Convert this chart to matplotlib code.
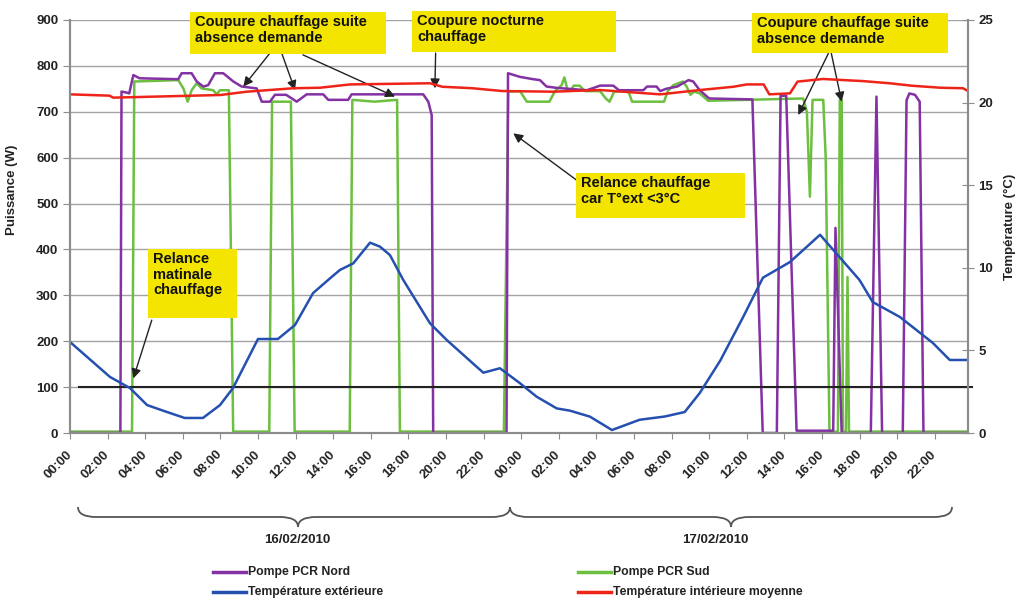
import numpy as np
import matplotlib.pyplot as plt
from matplotlib.lines import Line2D
from matplotlib.path import Path
from matplotlib.patches import PathPatch, Rectangle

plt.rcParams['font.family'] = ['Liberation Sans', 'DejaVu Sans']
plt.rcParams['font.weight'] = 'bold'
plt.rcParams['axes.labelweight'] = 'bold'

# ---- données (temps en heures depuis le 16/02 00:00) ----
t_nord = [0, 2.68, 2.74, 3.0, 3.15, 3.37, 3.7, 5.76, 5.94, 6.47, 6.74, 7.09, 7.35, 7.71,
          8.15, 8.69, 9.13, 9.93, 10.2, 10.64, 10.9, 11.5, 12.06, 12.59, 13.47, 13.74,
          14.8, 14.98, 18.79, 19.06, 19.24, 19.32, 23.22, 23.3, 23.94, 24.64, 25.0,
          25.35, 25.9, 27.5, 28.2, 28.9, 29.2, 30.5, 30.7, 31.2, 31.4, 31.7, 32.3, 32.9,
          33.15, 33.5, 34.0, 36.3, 36.85, 37.6, 37.8, 38.1, 38.65, 40.6, 40.72, 41.05,
          42.6, 42.9, 43.2, 44.3, 44.5, 44.65, 44.95, 45.2, 45.4, 47.77]
p_nord = [0, 0, 744, 742, 740, 780, 773, 771, 784, 784, 766, 755, 758, 784,
          784, 766, 755, 751, 722, 722, 737, 737, 722, 738, 738, 726,
          726, 738, 738, 722, 693, 0, 0, 784, 776, 771, 769,
          755, 752, 747, 757, 757, 747, 747, 755, 755, 745, 750, 755, 769,
          766, 747, 729, 727, 0, 0, 735, 735, 5, 5, 447, 0,
          0, 733, 0, 0, 725, 740, 737, 722, 0, 0]

t_sud = [0, 3.3, 3.42, 5.76, 6.03, 6.26, 6.47, 6.74, 7.0, 7.62, 7.8, 7.98, 8.45, 8.68,
         10.6, 10.75, 11.75, 11.95, 14.88, 15.02, 16.2, 17.4, 17.55, 23.08, 23.32,
         23.94, 24.3, 25.5, 25.8, 26.15, 26.3, 26.45, 26.6, 26.8, 27.1, 27.4, 28.2,
         28.5, 28.7, 28.95, 29.7, 29.9, 31.6, 31.8, 32.1, 32.6, 32.8, 33.0, 33.2, 33.5,
         33.95, 39.0, 39.2, 39.36, 39.5, 40.07, 40.2, 40.4, 40.85, 40.95, 41.05, 41.12,
         41.28, 41.36, 41.44, 47.77]
p_sud = [3, 3, 766, 769, 751, 722, 747, 762, 751, 747, 738, 747, 747, 3,
         3, 722, 722, 3, 3, 726, 722, 726, 3, 3, 744,
         745, 722, 722, 745, 758, 775, 750, 745, 757, 757, 745, 745,
         729, 722, 744, 745, 722, 722, 745, 758, 766, 755, 737, 744, 740,
         724, 729, 700, 515, 726, 726, 600, 3, 3, 726, 726, 3,
         3, 340, 3, 3]

t_ext = [0, 2.13, 3.19, 4.1, 5.16, 6.1, 7.07, 7.98, 8.67, 10.0, 11.06, 11.97, 12.93,
         13.83, 14.36, 15.07, 15.96, 16.49, 17.02, 17.73, 19.15, 20.04, 21.63, 21.99,
         22.87, 23.94, 24.82, 25.89, 26.6, 27.66, 28.83, 30.3, 31.65, 32.7, 33.5, 34.6,
         35.8, 36.86, 38.3, 39.9, 42.0, 42.7, 44.15, 45.9, 46.8, 47.77]
temp_ext = [5.51, 3.39, 2.72, 1.69, 1.27, 0.91, 0.91, 1.69, 2.72, 5.69, 5.69, 6.54, 8.47,
            9.36, 9.87, 10.27, 11.52, 11.28, 10.77, 9.26, 6.64, 5.63, 4.01, 3.65,
            3.92, 3.01, 2.20, 1.49, 1.35, 0.99, 0.18, 0.8, 1.0, 1.27, 2.42, 4.4,
            7.0, 9.4, 10.35, 12.0, 9.26, 7.93, 7.02, 5.45, 4.42, 4.42]

t_int = [0, 2.1, 2.3, 8.0, 9.4, 11.9, 13.3, 14.9, 19.15, 19.8, 21.4, 23.0, 25.7, 27.1,
         28.2, 31.4, 33.5, 35.3, 36.0, 36.9, 37.2, 38.3, 38.7, 40.05, 42.2, 43.6, 44.8,
         46.3, 47.5, 47.77]
temp_int = [20.5, 20.42, 20.3, 20.46, 20.66, 20.87, 20.9, 21.1, 21.17, 20.96, 20.87, 20.7,
            20.66, 20.72, 20.76, 20.5, 20.76, 20.96, 21.1, 21.1, 20.5, 20.56, 21.27,
            21.43, 21.3, 21.17, 21.02, 20.9, 20.87, 20.7]

heures = ["00:00", "02:00", "04:00", "06:00", "08:00", "10:00",
          "12:00", "14:00", "16:00", "18:00", "20:00", "22:00"]
jours = ["16/02/2010", "17/02/2010"]
seuil_puissance = 100

c_nord = '#8331a3'
c_sud = '#6cbf3f'
c_ext = '#2550b0'
c_int = '#ee2418'
jaune = '#f3e500'

W, H = 1020, 601
fig = plt.figure(figsize=(W / 100, H / 100), dpi=100)
ax = fig.add_axes([70 / W, 1 - 433 / H, (968 - 70) / W, (433 - 20) / H])
ax2 = ax.twinx()

ax.plot(t_sud, p_sud, color=c_sud, lw=1.8, label="Pompe PCR Sud")
ax.plot(t_nord, p_nord, color=c_nord, lw=1.8, label="Pompe PCR Nord")
ax.axhline(seuil_puissance, xmin=0.01, xmax=1.005, color='#222222', lw=1.5, clip_on=False)
ax2.plot(t_ext, temp_ext, color=c_ext, lw=1.8, label="Température extérieure")
ax2.plot(t_int, temp_int, color=c_int, lw=1.8, label="Température intérieure moyenne")

ax.set_xlim(0, 47.77)
ax.set_ylim(0, 900)
ax2.set_ylim(0, 25)
ax.set_yticks(np.arange(0, 901, 100))
ax2.set_yticks(np.arange(0, 26, 5))
ax.set_xticks(np.arange(0, 48, 2))
ax.set_xticklabels(heures * 2, rotation=45, ha='right', va='center',
                   rotation_mode='anchor')
ax.grid(axis='y', color='#a3a3a3', lw=1)
ax.set_axisbelow(True)

for a in (ax, ax2):
    for s in a.spines.values():
        s.set_color('#8c8c8c')
        s.set_linewidth(1.5)
    a.spines['top'].set_visible(False)
ax.tick_params(axis='x', colors='#8c8c8c', length=4, pad=10, labelsize=9.5,
               labelcolor='#222222')
ax.tick_params(axis='y', colors='#8c8c8c', length=5, labelsize=9.5, labelcolor='#222222')
ax2.tick_params(axis='y', colors='#8c8c8c', direction='inout', length=8,
                labelsize=9.5, labelcolor='#222222')

ax.set_ylabel("Puissance (W)", fontsize=9.5, color='#222222')
ax.yaxis.set_label_coords(-0.058, 0.588)
ax2.set_ylabel("Température (°C)", fontsize=9.5, color='#222222')
ax2.yaxis.set_label_coords(1.04, 0.5)


# ---- encadrés jaunes (en pixels) ----
def boite(x0, y0, x1, y1, texte):
    fig.add_artist(Rectangle((x0 / W, 1 - y1 / H), (x1 - x0) / W, (y1 - y0) / H,
                             transform=fig.transFigure, facecolor=jaune,
                             edgecolor='none', zorder=5))
    fig.text((x0 + 5) / W, 1 - (y0 + 3) / H, texte, ha='left', va='top',
             fontsize=10.5, color='#111111', linespacing=1.15, zorder=6)


boite(190, 12, 386, 54, "Coupure chauffage suite\nabsence demande")
boite(412, 11, 616, 52, "Coupure nocturne\nchauffage")
boite(752, 13, 948, 53, "Coupure chauffage suite\nabsence demande")
boite(576, 173, 745, 218, "Relance chauffage\ncar T°ext <3°C")
boite(148, 249, 237, 318, "Relance\nmatinale\nchauffage")

fleches = [((10.64, 828), (9.22, 755)), ((11.26, 828), (11.97, 747)),
           ((12.39, 824), (17.29, 733)), ((19.45, 828), (19.41, 751)),
           ((40.34, 827), (38.74, 693)), ((40.5, 827), (41.05, 722)),
           ((26.95, 551), (23.58, 653)), ((4.35, 246), (3.37, 119))]
for queue, tete in fleches:
    ax.annotate('', xy=tete, xytext=queue, annotation_clip=False,
                arrowprops=dict(arrowstyle='-|>', color='#222222', lw=1.0,
                                mutation_scale=14, shrinkA=0, shrinkB=0))


# ---- accolades des jours ----
def accolade(xa, xb, xm, y0, y1, r=18):
    ym = (y0 + y1) / 2
    pts = [(xa, y0), (xa, ym), (xa + r, ym), (xm - r, ym), (xm, ym), (xm, y1),
           (xm, ym), (xm + r, ym), (xb - r, ym), (xb, ym), (xb, y0)]
    codes = [Path.MOVETO, Path.CURVE3, Path.CURVE3, Path.LINETO, Path.CURVE3, Path.CURVE3,
             Path.CURVE3, Path.CURVE3, Path.LINETO, Path.CURVE3, Path.CURVE3]
    pts = [(x / W, 1 - y / H) for x, y in pts]
    fig.add_artist(PathPatch(Path(pts, codes), transform=fig.transFigure,
                             fill=False, edgecolor='#555555', lw=1.3))


accolade(78, 510, 298, 507, 527)
accolade(510, 952, 731, 507, 527)
fig.text(297 / W, 1 - 540 / H, jours[0], ha='center', va='center', fontsize=9.5, color='#222222')
fig.text(715 / W, 1 - 540 / H, jours[1], ha='center', va='center', fontsize=9.5, color='#222222')

# ---- légende ----
leg = [("Pompe PCR Nord", c_nord, 213, 572), ("Pompe PCR Sud", c_sud, 578, 572),
       ("Température extérieure", c_ext, 213, 592),
       ("Température intérieure moyenne", c_int, 578, 592)]
for nom, col, x, y in leg:
    fig.add_artist(Line2D([x / W, (x + 33) / W], [1 - y / H, 1 - y / H],
                          transform=fig.transFigure, color=col, lw=2.5))
    fig.text((x + 35) / W, 1 - y / H, nom, ha='left', va='center', fontsize=8.8,
             color='#222222')

fig.savefig("out.png", dpi=100)
